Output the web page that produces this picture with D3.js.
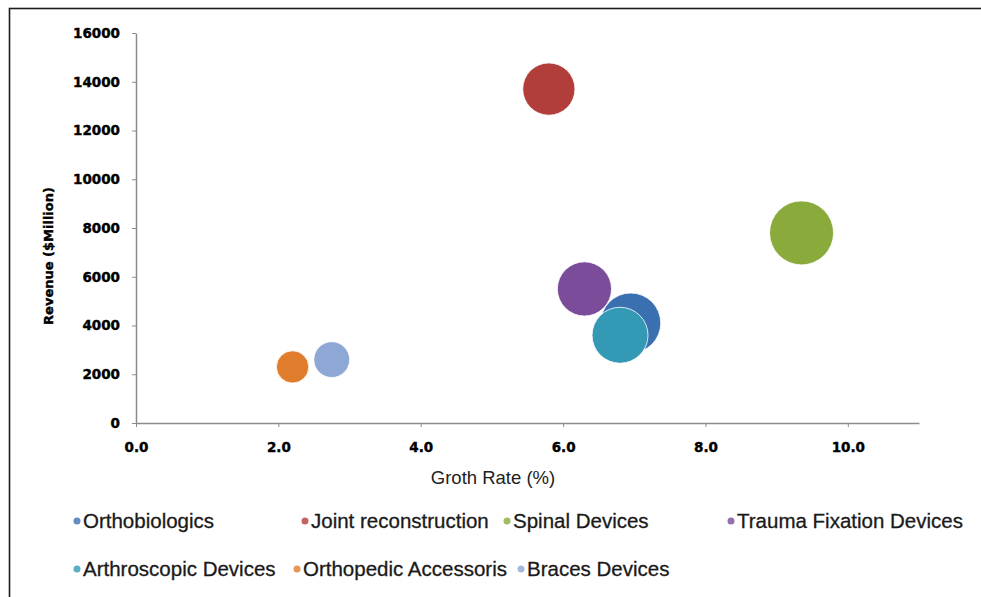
<!DOCTYPE html>
<html>
<head>
<meta charset="utf-8">
<script src="https://cdn.jsdelivr.net/npm/d3@7"></script>
<style>
  html, body { margin: 0; padding: 0; background: #fff; overflow: hidden; }
  svg { display: block; }
</style>
</head>
<body>
<svg id="chart" width="981" height="597"></svg>
<script>
// Segment data
const segments = ["Orthobiologics", "Joint reconstruction", "Spinal Devices", "Trauma Fixation Devices",
                  "Arthroscopic Devices", "Orthopedic Accessoris", "Braces Devices"];
const growthRate = [6.95, 5.8, 9.35, 6.3, 6.8, 2.2, 2.75];          // %
const revenue    = [4100, 13700, 7800, 5500, 3600, 2300, 2600];     // $ Million
const bubbleSize = [9.0, 6.8, 10.2, 7.3, 7.8, 2.6, 3.2];            // relative market weight
const colors     = ["#3b70b0", "#b23e3c", "#8aab3c", "#7a4c99", "#3499b4", "#e07d2c", "#8fa7d5"];

const xTicks = [0, 2, 4, 6, 8, 10];
const yTicks = [0, 2000, 4000, 6000, 8000, 10000, 12000, 14000, 16000];

const svg = d3.select("#chart");

// outer frame
svg.append("rect")
  .attr("x", 9.5).attr("y", 8.5)
  .attr("width", 1000).attr("height", 620)
  .attr("fill", "none").attr("stroke", "#1c1c1c").attr("stroke-width", 1.6);

const x = d3.scaleLinear().domain([0, 11]).range([136, 919]);
const y = d3.scaleLinear().domain([0, 16000]).range([423, 33]);
const r = d3.scaleSqrt().domain([0, d3.max(bubbleSize)]).range([0, 32]);

// axes
const xAxis = svg.append("g")
  .attr("transform", `translate(0,${y(0)})`)
  .call(d3.axisBottom(x).tickValues(xTicks).tickFormat(d3.format(".1f")).tickSize(4).tickPadding(15).tickSizeOuter(0));
const yAxis = svg.append("g")
  .attr("transform", `translate(${x(0)},0)`)
  .call(d3.axisLeft(y).tickValues(yTicks).tickFormat(d3.format("d")).tickSize(4).tickPadding(12).tickSizeOuter(0));

[xAxis, yAxis].forEach(g => {
  g.select(".domain").attr("stroke", "#8c8c8c").attr("stroke-width", 1.5);
  g.selectAll(".tick line").attr("stroke", "#8c8c8c");
  g.selectAll(".tick text")
    .attr("fill", "#000")
    .attr("stroke", "#000")
    .attr("stroke-width", 0.4)
    .style("font-family", "'DejaVu Sans', sans-serif")
    .style("font-weight", "bold")
    .style("font-size", "13.5px");
});

// axis titles
svg.append("text")
  .attr("x", 493).attr("y", 484)
  .attr("text-anchor", "middle")
  .style("font-family", "'Liberation Sans', Arial, sans-serif")
  .style("font-size", "18.5px")
  .attr("fill", "#222")
  .text("Groth Rate (%)");

svg.append("text")
  .attr("transform", "translate(53,256) rotate(-90)")
  .attr("text-anchor", "middle")
  .style("font-family", "'DejaVu Sans', sans-serif")
  .style("font-weight", "bold")
  .style("font-size", "13px")
  .attr("fill", "#000")
  .attr("stroke", "#000")
  .attr("stroke-width", 0.4)
  .text("Revenue ($Million)");

// bubbles
const data = segments.map((name, i) => ({
  name, g: growthRate[i], v: revenue[i], s: bubbleSize[i], c: colors[i]
}));

svg.append("g").selectAll("circle")
  .data(data)
  .join("circle")
  .attr("cx", d => x(d.g))
  .attr("cy", d => y(d.v))
  .attr("r", d => r(d.s))
  .attr("fill", d => d.c)
  .attr("stroke", "#fff")
  .attr("stroke-width", 0.8);

// legend
const legendPos = [[77, 521], [305, 521], [507, 521], [731, 521],
                   [77, 569], [297, 569], [521, 569]];
const legend = svg.append("g").selectAll("g")
  .data(data)
  .join("g")
  .attr("transform", (d, i) => `translate(${legendPos[i][0]},${legendPos[i][1]})`);
legend.append("circle")
  .attr("r", 3.5)
  .attr("fill", d => d.c)
  .attr("opacity", 0.8);
legend.append("text")
  .attr("x", 6)
  .attr("dy", "0.36em")
  .style("font-family", "'Liberation Sans', Arial, sans-serif")
  .style("font-size", "20.5px")
  .attr("fill", "#1a1a1a")
  .attr("stroke", "#1a1a1a")
  .attr("stroke-width", 0.3)
  .text(d => d.name);
</script>
</body>
</html>
